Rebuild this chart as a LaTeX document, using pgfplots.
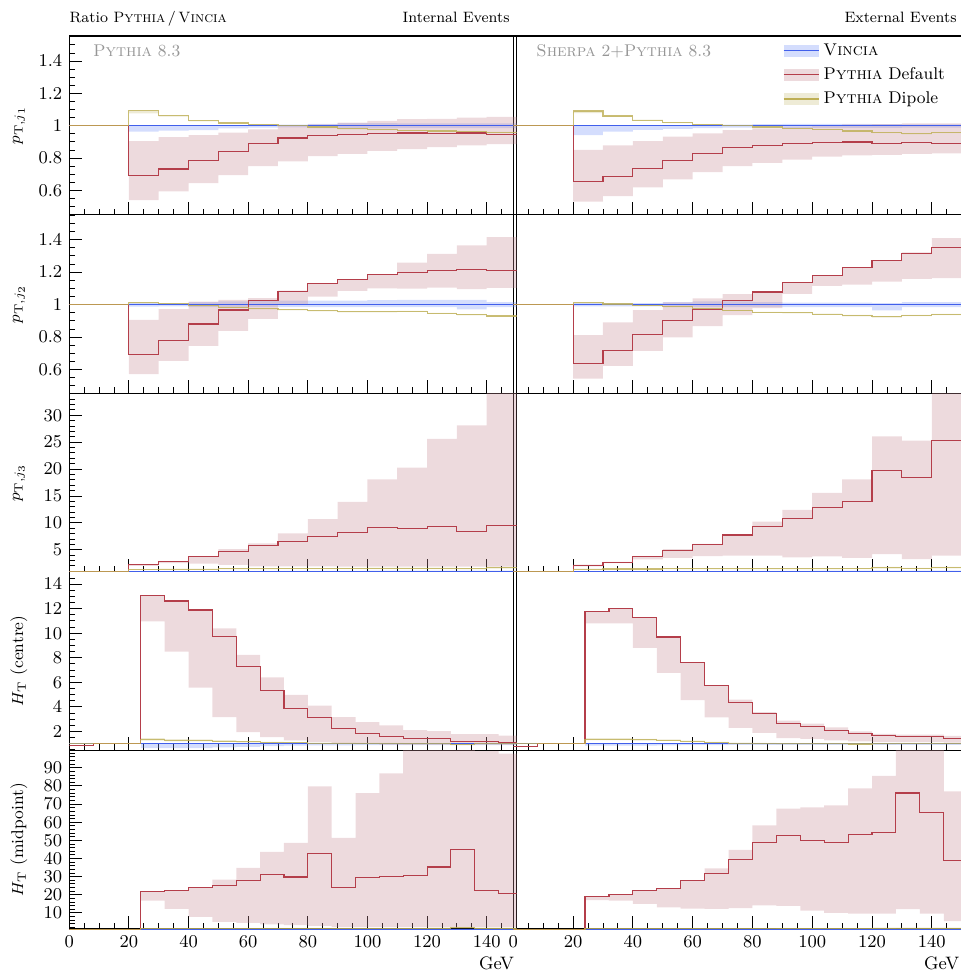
\documentclass[border=0pt]{standalone}
\usepackage{pgfplots}
\pgfplotsset{compat=1.18}
\usepackage{pgfplotstable}
\usepgfplotslibrary{fillbetween}

\definecolor{lblue}{RGB}{65,95,235}
\definecolor{fblue}{RGB}{120,150,250}
\definecolor{lred}{RGB}{180,62,74}
\definecolor{fred}{RGB}{200,140,150}
\definecolor{lyel}{RGB}{190,175,85}
\definecolor{fyel}{RGB}{200,190,120}
\definecolor{txtgray}{RGB}{150,150,150}

% columns: x, Vincia (b,bl,bh), Pythia default (r,rl,rh), Pythia dipole (d,dl,dh)
\pgfplotstableread{
x b bl bh r rl rh d dl dh
0 1 1 1 1 1 1 1 1 1
20 1 0.963 1.004 0.69 0.54 0.905 1.093 1.077 1.095
30 1 0.969 1.004 0.732 0.593 0.93 1.062 1.056 1.064
40 1 0.973 1.004 0.783 0.645 0.942 1.031 1.027 1.033
50 1 0.983 1.004 0.843 0.695 0.957 1.017 1.014 1.019
60 1 0.988 1.005 0.888 0.75 0.977 1.006 1.003 1.008
70 1 0.99 1.006 0.924 0.78 0.998 1.002 0.999 1.004
80 1 0.985 1.012 0.938 0.812 1.008 0.992 0.989 0.994
90 1 0.983 1.016 0.944 0.825 1.019 0.981 0.978 0.984
100 1 0.983 1.016 0.95 0.845 1.03 0.975 0.972 0.978
110 1 0.985 1.014 0.955 0.855 1.04 0.971 0.968 0.974
120 1 0.985 1.014 0.953 0.868 1.043 0.967 0.964 0.97
130 1 0.985 1.014 0.955 0.878 1.05 0.963 0.96 0.966
140 1 0.985 1.014 0.948 0.886 1.055 0.959 0.956 0.962
150 1 0.985 1.014 0.948 0.886 1.055 0.959 0.956 0.962
}\LA
\pgfplotstableread{
x b bl bh r rl rh d dl dh
0 1 1 1 1 1 1 1 1 1
20 1 0.942 1.004 0.655 0.53 0.85 1.091 1.078 1.093
30 1 0.963 1.004 0.684 0.565 0.878 1.06 1.055 1.062
40 1 0.975 1.004 0.736 0.618 0.905 1.035 1.031 1.037
50 1 0.98 1.004 0.783 0.668 0.932 1.019 1.016 1.021
60 1 0.985 1.005 0.829 0.713 0.953 1.008 1.005 1.01
70 1 0.988 1.006 0.866 0.75 0.973 1.0 0.997 1.002
80 1 0.988 1.01 0.88 0.77 0.983 0.992 0.989 0.994
90 1 0.986 1.012 0.891 0.79 0.994 0.983 0.98 0.985
100 1 0.986 1.012 0.897 0.808 1.002 0.979 0.976 0.981
110 1 0.986 1.012 0.899 0.816 1.008 0.967 0.964 0.969
120 1 0.986 1.01 0.891 0.82 1.01 0.957 0.954 0.959
130 1 0.988 1.008 0.895 0.825 1.014 0.95 0.947 0.952
140 1 0.988 1.008 0.891 0.829 1.014 0.957 0.954 0.959
150 1 0.988 1.008 0.891 0.829 1.014 0.957 0.954 0.959
}\RA
\pgfplotstableread{
x b bl bh r rl rh d dl dh
0 1 1 1 1 1 1 1 1 1
20 1 0.988 1.012 0.694 0.572 0.906 1.012 1.008 1.014
30 1 0.99 1.008 0.782 0.654 0.973 1.006 1.002 1.008
40 1 0.985 1.015 0.881 0.747 1.019 0.994 0.99 0.996
50 1 0.985 1.02 0.967 0.838 1.029 0.984 0.98 0.986
60 1 0.984 1.025 1.027 0.912 1.04 0.975 0.971 0.977
70 1 0.984 1.025 1.083 1.0 1.086 0.969 0.965 0.971
80 1 0.984 1.025 1.13 1.05 1.13 0.963 0.959 0.965
90 1 0.984 1.025 1.152 1.085 1.156 0.957 0.953 0.96
100 1 0.984 1.028 1.183 1.1 1.185 0.957 0.953 0.96
110 1 0.984 1.03 1.2 1.099 1.259 0.959 0.955 0.962
120 1 0.984 1.03 1.208 1.105 1.313 0.947 0.943 0.95
130 1 0.971 1.029 1.216 1.095 1.364 0.938 0.934 0.941
140 1 0.984 1.015 1.212 1.103 1.416 0.93 0.926 0.933
150 1 0.984 1.015 1.212 1.103 1.416 0.93 0.926 0.933
}\LB
\pgfplotstableread{
x b bl bh r rl rh d dl dh
0 1 1 1 1 1 1 1 1 1
20 1 0.99 1.01 0.638 0.545 0.813 1.012 1.008 1.014
30 1 0.99 1.01 0.72 0.623 0.891 1.004 1.0 1.006
40 1 0.99 1.01 0.819 0.716 0.967 0.996 0.992 0.998
50 1 0.985 1.015 0.903 0.798 1.014 0.988 0.984 0.99
60 1 0.985 1.02 0.969 0.868 1.039 0.977 0.973 0.979
70 1 0.985 1.02 1.027 0.936 1.064 0.965 0.961 0.967
80 1 0.985 1.015 1.078 0.979 1.078 0.953 0.949 0.956
90 1 0.985 1.012 1.138 1.066 1.138 0.951 0.947 0.954
100 1 0.985 1.012 1.179 1.115 1.179 0.942 0.938 0.945
110 1 0.985 1.012 1.23 1.123 1.23 0.934 0.928 0.937
120 1 0.965 1.01 1.27 1.142 1.272 0.926 0.92 0.93
130 1 0.985 1.015 1.313 1.158 1.321 0.934 0.93 0.937
140 1 0.985 1.015 1.354 1.163 1.41 0.94 0.936 0.943
150 1 0.985 1.015 1.354 1.163 1.41 0.94 0.936 0.943
}\RB
\pgfplotstableread{
x b bl bh r rl rh d dl dh
0 1 1 1 1 1 1 1 1 1
20 1 0.92 1.05 2.19 2.0 2.25 1.35 1.3 1.42
30 1 0.92 1.05 2.75 2.5 2.8 1.4 1.33 1.47
40 1 0.92 1.05 3.69 2.4 3.75 1.4 1.33 1.47
50 1 0.92 1.05 4.63 2.2 5.1 1.45 1.37 1.53
60 1 0.92 1.05 5.75 1.9 6.2 1.45 1.37 1.53
70 1 0.92 1.08 6.5 1.9 8.06 1.5 1.4 1.6
80 1 0.92 1.08 7.5 1.9 10.7 1.5 1.4 1.6
90 1 0.92 1.08 8.25 1.85 13.9 1.5 1.4 1.62
100 1 0.92 1.1 9.13 1.85 18.1 1.55 1.42 1.68
110 1 0.92 1.1 9.0 1.85 20.25 1.55 1.42 1.68
120 1 0.92 1.1 9.25 1.85 25.6 1.55 1.42 1.68
130 1 0.92 1.1 8.38 1.85 28.1 1.45 1.35 1.6
140 1 0.92 1.1 9.44 1.85 40 1.65 1.5 1.8
150 1 0.92 1.1 9.44 1.85 40 1.65 1.5 1.8
}\LC
\pgfplotstableread{
x b bl bh r rl rh d dl dh
0 1 1 1 1 1 1 1 1 1
20 1 0.92 1.05 2.13 1.9 2.25 1.4 1.33 1.47
30 1 0.92 1.05 2.69 2.5 2.75 1.42 1.35 1.5
40 1 0.92 1.05 3.75 3.2 3.8 1.42 1.35 1.5
50 1 0.92 1.05 4.88 3.5 5.1 1.45 1.37 1.53
60 1 0.92 1.05 6.0 3.8 6.1 1.45 1.37 1.53
70 1 0.92 1.08 7.75 3.9 7.8 1.45 1.37 1.55
80 1 0.92 1.08 9.38 3.9 10.25 1.45 1.37 1.55
90 1 0.92 1.08 10.88 3.6 12.4 1.45 1.37 1.55
100 1 0.92 1.1 12.88 3.75 15.56 1.45 1.37 1.55
110 1 0.92 1.1 14.0 3.5 18.06 1.5 1.4 1.6
120 1 0.92 1.1 19.75 4.2 26.06 1.7 1.5 1.8
130 1 0.92 1.1 18.44 3.25 25.3 1.55 1.45 1.65
140 1 0.92 1.1 25.38 3.9 40 1.7 1.55 1.8
150 1 0.92 1.1 25.38 3.9 40 1.7 1.55 1.8
}\RC
\pgfplotstableread{
x b bl bh r rl rh d dl dh
0 1 1 1 0.86 0.86 0.86 1 1 1
8 1 1 1 1 1 1 1 1 1
16 1 1 1 1 1 1 1 1 1
24 1 0.65 1.03 13.05 10.97 13.05 1.35 1.25 1.45
32 1 0.65 1.03 12.62 8.5 12.62 1.3 1.2 1.38
40 1 0.65 1.03 11.89 5.58 11.89 1.28 1.2 1.36
48 1 0.7 1.03 9.77 3.16 10.4 1.22 1.15 1.3
56 1 0.75 1.03 7.31 1.95 8.23 1.16 1.1 1.22
64 1 0.8 1.03 5.36 1.54 6.41 1.1 1.05 1.15
72 1 0.85 1.03 3.9 1.27 4.98 1.08 1.03 1.12
80 1 0.88 1.03 3.11 1.13 4.11 1.05 1.0 1.1
88 1 0.88 1.03 2.27 1.08 3.16 1.04 0.99 1.09
96 1 0.9 1.04 1.86 1.0 2.76 1.03 0.98 1.08
104 1 0.9 1.04 1.62 0.94 2.49 1.02 0.97 1.07
112 1 0.9 1.05 1.4 0.94 2.11 1.0 0.95 1.05
120 1 0.9 1.05 1.4 0.94 2.03 1.0 0.95 1.05
128 1 0.9 1.05 1.21 0.94 1.78 0.96 0.9 1.01
136 1 0.9 1.05 1.21 0.94 1.78 1.0 0.95 1.05
144 1 0.9 1.05 1.1 0.94 1.67 1.0 0.95 1.05
152 1 0.9 1.05 1.1 0.94 1.67 1.0 0.95 1.05
}\LD
\pgfplotstableread{
x b bl bh r rl rh d dl dh
0 1 1 1 0.81 0.81 0.81 1 1 1
8 1 1 1 1 1 1 1 1 1
16 1 1 1 1 1 1 1 1 1
24 1 0.85 1.03 11.8 10.8 11.8 1.38 1.3 1.45
32 1 0.85 1.03 12.0 10.8 12.0 1.38 1.3 1.45
40 1 0.85 1.03 11.29 8.8 11.29 1.33 1.26 1.4
48 1 0.88 1.03 9.69 6.77 9.69 1.3 1.23 1.36
56 1 0.9 1.03 7.63 4.55 7.63 1.2 1.14 1.26
64 1 0.9 1.03 5.76 3.14 5.76 1.1 1.05 1.15
72 1 0.92 1.03 4.38 2.3 4.6 1.05 1.0 1.1
80 1 0.92 1.03 3.46 1.89 3.57 1.03 0.98 1.08
88 1 0.92 1.03 2.68 1.46 2.89 1.0 0.95 1.05
96 1 0.92 1.03 2.38 1.4 2.65 1.0 0.95 1.05
104 1 0.92 1.03 2.11 1.27 2.33 1.0 0.95 1.05
112 1 0.92 1.04 1.86 1.19 2.0 0.98 0.93 1.03
120 1 0.92 1.04 1.67 1.13 1.81 1.0 0.95 1.05
128 1 0.92 1.04 1.59 1.13 1.75 1.02 0.97 1.07
136 1 0.92 1.04 1.59 1.13 1.75 1.02 0.97 1.07
144 1 0.92 1.04 1.46 1.1 1.65 1.02 0.97 1.07
152 1 0.92 1.04 1.46 1.1 1.65 1.02 0.97 1.07
}\RD
\pgfplotstableread{
x b bl bh r rl rh d dl dh
0 1 1 1 1 1 1 1 1 1
8 1 1 1 1 1 1 1 1 1
16 1 1 1 1 1 1 1 1 1
24 1 1 1.2 22.0 16.8 22.0 1.3 1.2 1.4
32 1 1 1.2 22.4 12.2 22.4 1.3 1.2 1.4
40 1 1 1.2 24.2 7.8 24.2 1.3 1.2 1.4
48 1 1 1.2 25.3 5.0 28.3 1.3 1.2 1.4
56 1 1 1.2 28.1 4.5 34.8 1.3 1.2 1.4
64 1 1 1.2 31.1 3.7 43.6 1.3 1.2 1.4
72 1 1 1.2 29.8 3.2 48.6 1.3 1.2 1.4
80 1 1 1.2 42.9 2.8 79.7 1.3 1.2 1.4
88 1 1 1.2 24.2 2.2 51.4 1.4 1.2 1.6
96 1 1 1.2 29.6 2.2 76.1 1.4 1.2 1.6
104 1 1 1.2 30.0 2.2 87.0 1.4 1.2 1.6
112 1 1 1.2 30.7 2.2 120 1.4 1.2 1.6
120 1 1 1.2 35.3 2.2 120 1.5 1.2 1.8
128 1 1 1.2 44.9 2.2 120 1.8 1.4 2.2
136 1 1 1.2 22.2 2.2 99.3 1.5 1.2 1.8
144 1 1 1.2 20.7 2.2 97.8 1.5 1.2 1.8
152 1 1 1.2 20.7 2.2 97.8 1.5 1.2 1.8
}\LE
\pgfplotstableread{
x b bl bh r rl rh d dl dh
0 1 1 1 1 1 1 1 1 1
8 1 1 1 1 1 1 1 1 1
16 1 1 1 1 1 1 1 1 1
24 1 1 1.2 19.2 17.0 19.2 1.3 1.2 1.4
32 1 1 1.2 20.0 16.7 20.0 1.3 1.2 1.4
40 1 1 1.2 22.2 15.0 22.2 1.3 1.2 1.4
48 1 1 1.2 23.5 13.0 23.5 1.3 1.2 1.4
56 1 1 1.2 27.7 12.4 27.7 1.3 1.2 1.4
64 1 1 1.2 31.8 12.2 34.6 1.3 1.2 1.4
72 1 1 1.2 39.2 12.6 44.7 1.3 1.2 1.4
80 1 1 1.2 49.0 14.2 58.2 1.3 1.2 1.4
88 1 1 1.2 52.9 13.9 67.5 1.4 1.2 1.6
96 1 1 1.2 50.1 11.3 68.2 1.4 1.2 1.6
104 1 1 1.2 48.8 10.0 69.3 1.4 1.2 1.6
112 1 1 1.2 53.2 9.6 78.7 1.4 1.2 1.6
120 1 1 1.2 54.2 9.6 85.6 1.5 1.2 1.8
128 1 1 1.2 76.1 12.0 120 1.6 1.3 1.9
136 1 1 1.2 65.6 9.6 120 1.5 1.2 1.8
144 1 1 1.2 38.8 5.4 77.0 1.5 1.2 1.8
152 1 1 1.2 38.8 5.4 77.0 1.5 1.2 1.8
}\RE

\newcommand{\histo}[1]{%
  \addplot[draw=none,const plot,name path=bh,forget plot] table[x=x,y=bh]{#1};
  \addplot[draw=none,const plot,name path=bl,forget plot] table[x=x,y=bl]{#1};
  \addplot[fill=fblue,fill opacity=0.32,draw=none,forget plot] fill between[of=bh and bl];
  \addplot[draw=none,const plot,name path=rh,forget plot] table[x=x,y=rh]{#1};
  \addplot[draw=none,const plot,name path=rl,forget plot] table[x=x,y=rl]{#1};
  \addplot[fill=fred,fill opacity=0.32,draw=none,forget plot] fill between[of=rh and rl];
  \addplot[draw=none,const plot,name path=dh,forget plot] table[x=x,y=dh]{#1};
  \addplot[draw=none,const plot,name path=dl,forget plot] table[x=x,y=dl]{#1};
  \addplot[fill=fyel,fill opacity=0.3,draw=none,forget plot] fill between[of=dh and dl];
  \addplot[lblue,line width=0.55pt,const plot,forget plot] table[x=x,y=b]{#1};
  \addplot[lred,line width=0.55pt,const plot,forget plot] table[x=x,y=r]{#1};
  \addplot[lyel,line width=0.55pt,opacity=0.8,const plot,forget plot] table[x=x,y=d]{#1};
}

\pgfplotsset{
  panel/.style={
    scale only axis, width=223.6pt, height=89.3pt, anchor=north west,
    xmin=0, xmax=150, xtick={0,20,...,140}, minor xtick={5,10,...,145},
    xtick pos=bottom, ytick pos=left, tick align=inside,
    major tick length=6.5pt, minor tick length=3pt,
    axis line style={line width=0.6pt},
    every tick/.style={black,line width=0.45pt},
    tick label style={font=\fontsize{9}{10}\selectfont},
    ylabel style={at={(axis description cs:-0.1125,0.5)},anchor=center,font=\fontsize{8.5}{10}\selectfont},
    xlabel style={at={(axis description cs:1,0)},anchor=north east,yshift=-12.5pt,inner sep=1pt,font=\fontsize{9}{10}\selectfont},
    xticklabel=\empty,
  },
  rpanel/.style={panel, width=224.2pt},
  noy/.style={ytick=\empty, minor ytick=\empty, yticklabel=\empty},
  row1/.style={ymin=0.45, ymax=1.555, ytick={0.6,0.8,1,1.2,1.4}, minor ytick={0.5,0.55,...,1.56}},
  row2/.style={ymin=0.455, ymax=1.554, ytick={0.6,0.8,1,1.2,1.4}, minor ytick={0.5,0.55,...,1.56}},
  row3/.style={ymin=0.9, ymax=34.1, ytick={5,10,...,30}, minor ytick={1,2,...,34}},
  row4/.style={ymin=0.46, ymax=15.0, ytick={2,4,...,14}, minor ytick={0.5,1,...,15}},
  row5/.style={ymin=1.1, ymax=99.6, ytick={10,20,...,90}, minor ytick={2,4,...,98}},
  bottomrow/.style={xticklabel={\pgfmathprintnumber{\tick}}, xlabel={GeV}},
}

\begin{document}
\begin{tikzpicture}
% ---- row 1
\begin{axis}[panel,row1,at={(34.65pt,-18pt)},ylabel={$p_{\mathrm{T},j_1}$}]
\histo{\LA}
\end{axis}
\begin{axis}[rpanel,row1,noy,at={(256.65pt,-18pt)},
  legend style={at={(axis description cs:0.601,0.982)},anchor=north west,draw=none,fill=none,
    font=\fontsize{8.5}{10}\selectfont,inner sep=0pt,row sep=0.6pt},
  legend cell align=left]
\histo{\RA}
\addlegendimage{legend image code/.code={\path[fill=fblue,fill opacity=0.32,draw=none] (0pt,-3pt) rectangle (17.6pt,3pt); \draw[lblue,line width=0.55pt] (0pt,0pt) -- (17.6pt,0pt);}}
\addlegendentry{\textsc{Vincia}}
\addlegendimage{legend image code/.code={\path[fill=fred,fill opacity=0.32,draw=none] (0pt,-3pt) rectangle (17.6pt,3pt); \draw[lred,line width=0.55pt] (0pt,0pt) -- (17.6pt,0pt);}}
\addlegendentry{\textsc{Pythia} Default}
\addlegendimage{legend image code/.code={\path[fill=fyel,fill opacity=0.3,draw=none] (0pt,-3pt) rectangle (17.6pt,3pt); \draw[lyel,line width=0.55pt] (0pt,0pt) -- (17.6pt,0pt);}}
\addlegendentry{\textsc{Pythia} Dipole}
\end{axis}
% ---- row 2
\begin{axis}[panel,row2,at={(34.65pt,-107.3pt)},ylabel={$p_{\mathrm{T},j_2}$}]
\histo{\LB}
\end{axis}
\begin{axis}[rpanel,row2,noy,at={(256.65pt,-107.3pt)}]
\histo{\RB}
\end{axis}
% ---- row 3
\begin{axis}[panel,row3,at={(34.65pt,-196.6pt)},ylabel={$p_{\mathrm{T},j_3}$}]
\histo{\LC}
\end{axis}
\begin{axis}[rpanel,row3,noy,at={(256.65pt,-196.6pt)}]
\histo{\RC}
\end{axis}
% ---- row 4
\begin{axis}[panel,row4,at={(34.65pt,-285.9pt)},ylabel={$H_{\mathrm{T}}$ (centre)}]
\histo{\LD}
\end{axis}
\begin{axis}[rpanel,row4,noy,at={(256.65pt,-285.9pt)}]
\histo{\RD}
\end{axis}
% ---- row 5
\begin{axis}[panel,row5,bottomrow,at={(34.65pt,-375.2pt)},ylabel={$H_{\mathrm{T}}$ (midpoint)}]
\histo{\LE}
\end{axis}
\begin{axis}[rpanel,row5,noy,bottomrow,at={(256.65pt,-375.2pt)}]
\histo{\RE}
\end{axis}
% ---- titles
\node[anchor=base west,inner sep=0pt,font=\fontsize{7.5}{9}\selectfont] at (34.65pt,-11.3pt) {Ratio \textsc{Pythia}\,/\,\textsc{Vincia}};
\node[anchor=base east,inner sep=0pt,font=\fontsize{7.5}{9}\selectfont] at (255pt,-11.3pt) {Internal Events};
\node[anchor=base east,inner sep=0pt,font=\fontsize{7.5}{9}\selectfont] at (478.5pt,-11.3pt) {External Events};
\node[anchor=base west,inner sep=0pt,text=txtgray,font=\fontsize{8.5}{10}\selectfont] at (46.35pt,-28pt) {\textsc{Pythia} 8.3};
\node[anchor=base west,inner sep=0pt,text=txtgray,font=\fontsize{8.5}{10}\selectfont] at (268pt,-28pt) {\textsc{Sherpa} 2+\textsc{Pythia} 8.3};
\pgfresetboundingbox
\useasboundingbox (0pt,0pt) rectangle (480pt,-485pt);
\end{tikzpicture}
\end{document}
